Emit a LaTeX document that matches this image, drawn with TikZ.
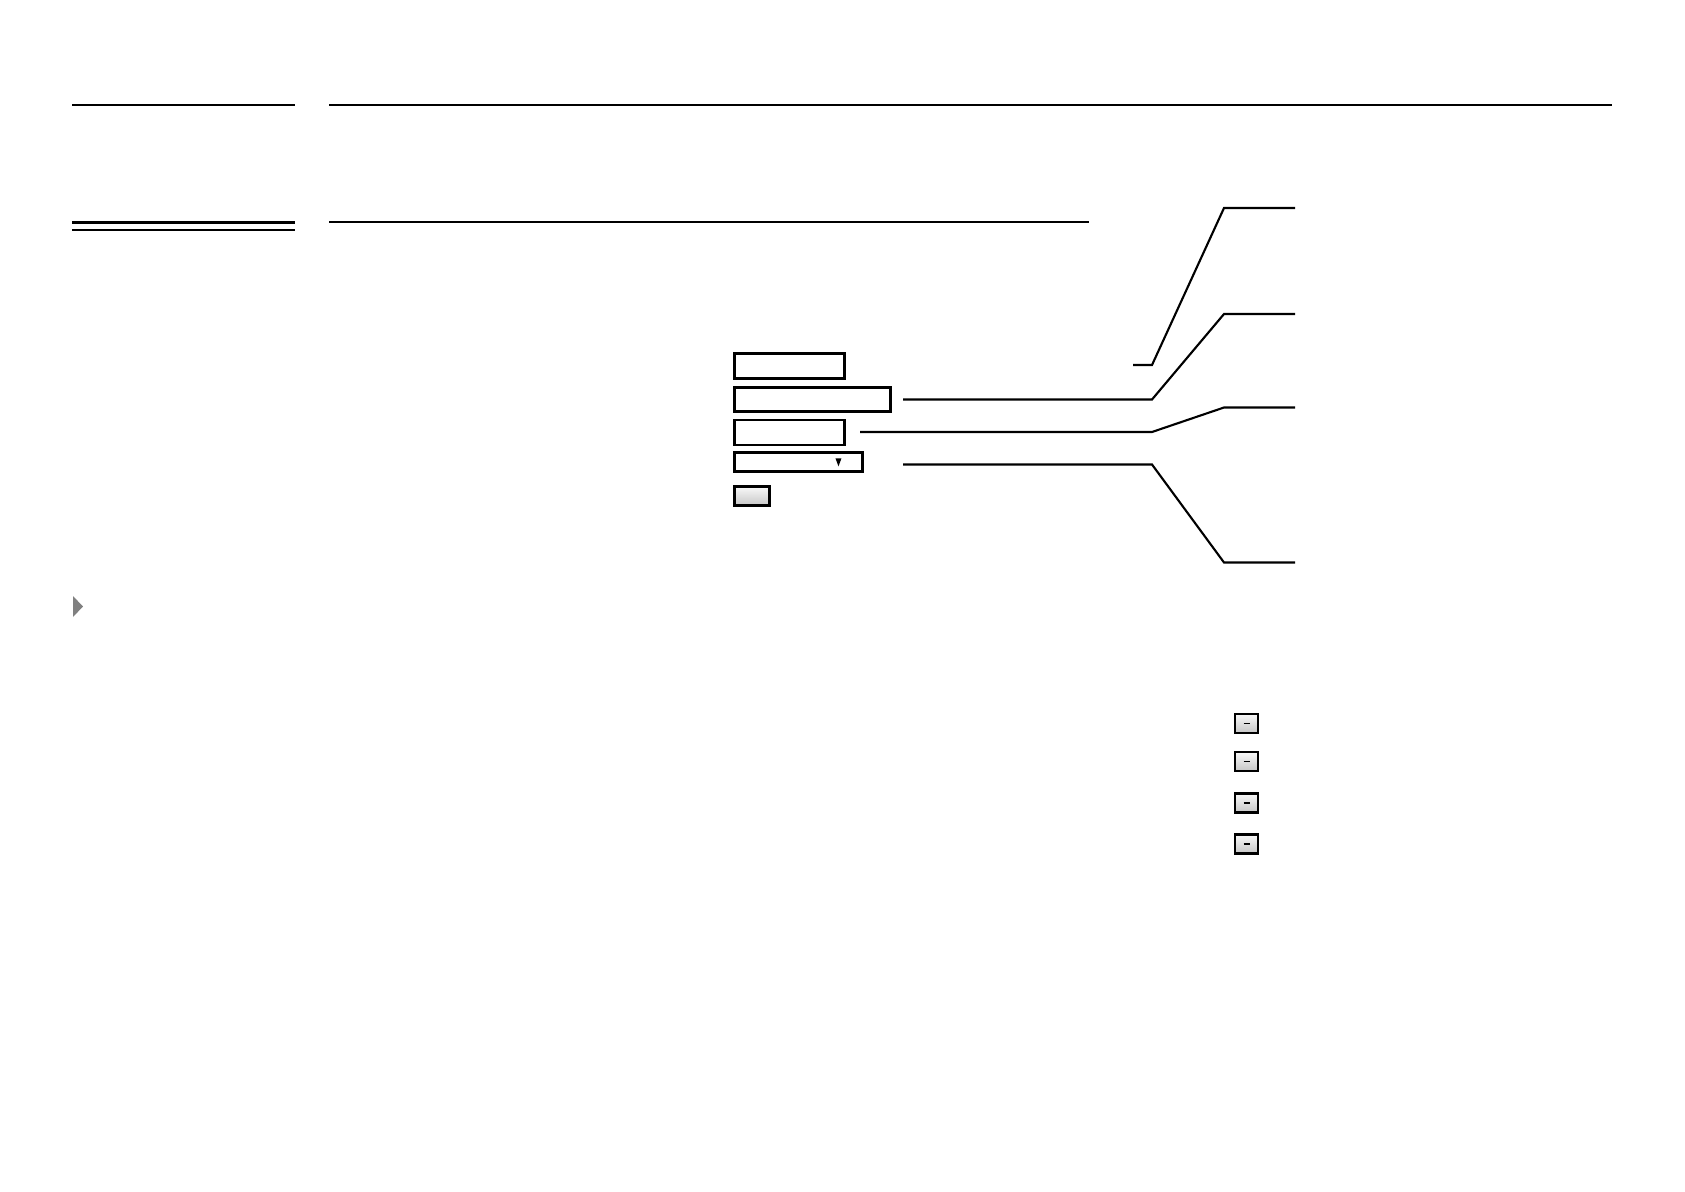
\documentclass[tikz,border=0pt]{standalone}
\usetikzlibrary{positioning,calc}

\begin{document}
\begin{tikzpicture}[x=0.01cm,y=-0.01cm,line width=0.6pt,
    field/.style={draw,line width=0.8pt,rectangle,inner sep=0pt,outer sep=0pt,
      anchor=north west},
    btn/.style={field,top color=gray!5,bottom color=gray!45},
    minibtn/.style={btn,line width=0.6pt,minimum width=0.23cm,minimum height=0.19cm,
      path picture={\draw[line width=0.5pt] (path picture bounding box.center)
        +(-3,0) -- +(3,0);}}]
    \useasboundingbox (0,0) rectangle (1685,1191);

    % rules at the top
    \draw (72,105) -- (295,105);
    \draw (329,105) -- (1612,105);
    \draw (72,222.5) -- (295,222.5);
    \draw (72,230) -- (295,230);
    \draw (329,222) -- (1089,222);

    % form
    \node[field,minimum width=1.10cm,minimum height=0.25cm] (name) at (734.4,353.4) {};
    \node[field,minimum width=1.56cm,minimum height=0.24cm,
      below=0.088cm of name.south west,anchor=north west] (mail) {};
    \node[field,minimum width=1.10cm,minimum height=0.25cm,
      below=0.088cm of mail.south west,anchor=north west] (phone) {};
    \node[field,minimum width=1.28cm,minimum height=0.19cm,
      below=0.078cm of phone.south west,anchor=north west] (pick) {};
    \node[btn,minimum width=0.35cm,minimum height=0.19cm,
      below=0.148cm of pick.south west,anchor=north west] (send) {};
    \fill ($(pick.east)+(-27,-4)$) -- ++(6,0) -- ++(-3,8) -- cycle;

    % callouts
    \coordinate (n0) at (1133,365);
    \coordinate (n1) at (1152,365);
    \coordinate (n2) at (1224,208);
    \coordinate (n3) at (1295,208);
    \coordinate (m0) at (903,399.5);
    \coordinate (m1) at (1152,399.5);
    \coordinate (m2) at (1224,314);
    \coordinate (m3) at (1295,314);
    \coordinate (p0) at (860,432);
    \coordinate (p1) at (1152,432);
    \coordinate (p2) at (1224,407.5);
    \coordinate (p3) at (1295,407.5);
    \coordinate (k0) at (903,464.5);
    \coordinate (k1) at (1152,464.5);
    \coordinate (k2) at (1224,562.5);
    \coordinate (k3) at (1295,562.5);
    \draw (n0) -- (n1) -- (n2) -- (n3);
    \draw (m0) -- (m1) -- (m2) -- (m3);
    \draw (p0) -- (p1) -- (p2) -- (p3);
    \draw (k0) -- (k1) -- (k2) -- (k3);

    % expander
    \fill[gray] (73,596) -- (83,606.5) -- (73,617) -- cycle;

    % remove buttons
    \node[minibtn] (del1) at (1235,714) {};
    \node[minibtn] (del2) at (1235,752) {};
    \node[minibtn] (del3) at (1235,793.5) {};
    \node[minibtn] (del4) at (1235,834.5) {};
\end{tikzpicture}
\end{document}
